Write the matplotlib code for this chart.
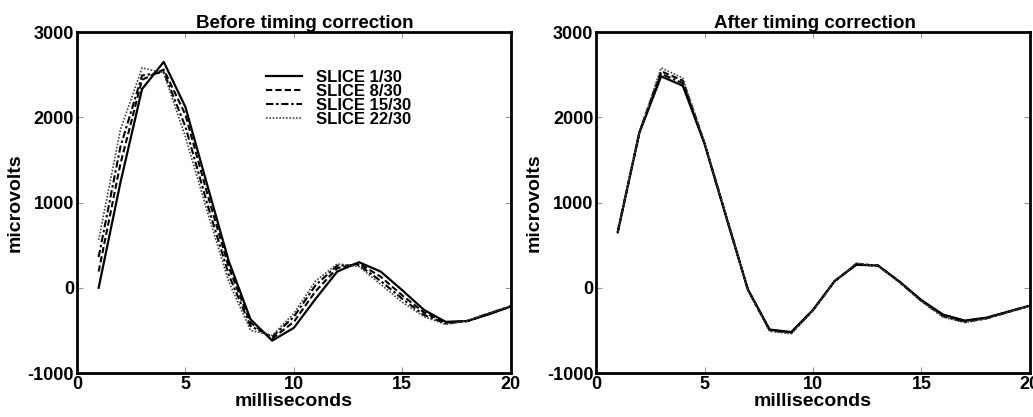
import matplotlib
matplotlib.use('Agg')
import matplotlib.pyplot as plt

plt.rcParams['font.family'] = ['Liberation Sans', 'DejaVu Sans']
plt.rcParams['font.weight'] = 'bold'
plt.rcParams['axes.unicode_minus'] = False

ms = list(range(1, 21))
labels = ['SLICE 1/30', 'SLICE 8/30', 'SLICE 15/30', 'SLICE 22/30']

# before timing correction (microvolts)
before_s1 = [0, 1230, 2330, 2650, 2120, 1210, 310, -370, -620, -470, -130, 190, 300, 190, -30, -260, -400, -390, -310, -220]
before_s8 = [190, 1450, 2440, 2560, 2030, 1110, 240, -410, -595, -400, -40, 230, 285, 130, -90, -290, -410, -390, -305, -220]
before_s15 = [360, 1650, 2490, 2530, 1890, 990, 150, -450, -575, -340, 30, 260, 265, 80, -130, -320, -420, -390, -300, -215]
before_s22 = [560, 1850, 2580, 2520, 1770, 900, 70, -500, -560, -300, 80, 280, 250, 40, -170, -340, -430, -385, -295, -215]

# after timing correction (microvolts)
after_s1 = [650, 1820, 2480, 2370, 1690, 830, -20, -490, -520, -260, 80, 270, 260, 70, -145, -315, -385, -350, -280, -210]
after_s8 = [655, 1825, 2540, 2430, 1700, 840, -20, -495, -525, -262, 78, 275, 262, 68, -150, -325, -395, -355, -282, -210]
after_s15 = [655, 1825, 2510, 2400, 1695, 835, -25, -500, -530, -265, 76, 280, 258, 65, -155, -335, -400, -360, -285, -212]
after_s22 = [660, 1830, 2580, 2460, 1705, 845, -30, -510, -540, -268, 75, 290, 255, 60, -160, -345, -410, -362, -288, -212]

styles = [
    dict(color='black', lw=1.6, ls='-'),
    dict(color='black', lw=1.5, ls=(0, (3, 1.5))),
    dict(color='black', lw=1.5, ls=(0, (3.5, 1.3, 1.2, 1.3))),
    dict(color='#444444', lw=1.2, ls=(0, (1, 1))),
]

fig = plt.figure(figsize=(10.33, 4.17), dpi=100)
ax1 = fig.add_axes([0.0745, 0.1055, 0.420, 0.8177])
ax2 = fig.add_axes([0.577, 0.1055, 0.420, 0.8177])


def style_axes(ax, title, title_x):
    ax.set_xlim(0, 20)
    ax.set_ylim(-1000, 3000)
    ax.set_xticks([0, 5, 10, 15, 20])
    ax.set_yticks([-1000, 0, 1000, 2000, 3000])
    ax.tick_params(direction='in', top=True, right=True, length=4, width=0.8,
                   color='#999999', labelsize=13, pad=2)
    for lab in ax.get_xticklabels() + ax.get_yticklabels():
        lab.set_fontweight('bold')
    for sp in ax.spines.values():
        sp.set_linewidth(2)
    ax.set_xlabel('milliseconds', fontsize=14, fontweight='bold', labelpad=0)
    ax.set_ylabel('microvolts', fontsize=14, fontweight='bold', labelpad=3)
    ax.set_title(title, fontsize=13.5, fontweight='bold', x=title_x, pad=3)


for vals, lab, st in zip([before_s1, before_s8, before_s15, before_s22], labels, styles):
    ax1.plot(ms, vals, label=lab, **st)
for vals, lab, st in zip([after_s1, after_s8, after_s15, after_s22], labels, styles):
    ax2.plot(ms, vals, label=lab, **st)

style_axes(ax1, 'Before timing correction', 0.525)
style_axes(ax2, 'After timing correction', 0.505)

leg = ax1.legend(loc='upper left', bbox_to_anchor=(0.435, 0.89), frameon=False,
                 fontsize=12, labelspacing=-0.05, handlelength=2.2, handletextpad=0.8,
                 borderpad=0, borderaxespad=0)
for t in leg.get_texts():
    t.set_fontweight('bold')

fig.savefig('out.png', dpi=100)
